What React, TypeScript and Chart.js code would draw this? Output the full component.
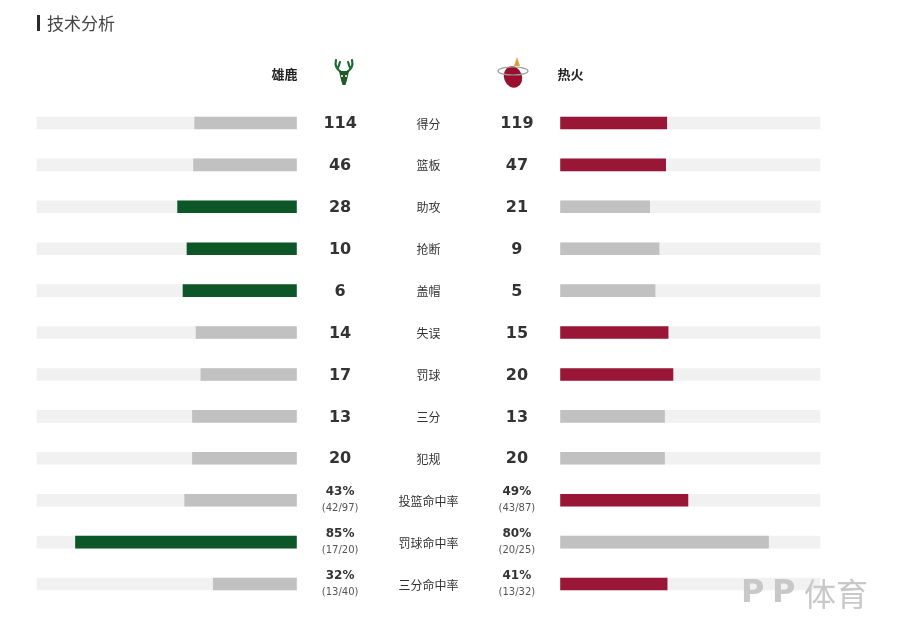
import React, { useEffect, useRef } from "react";
import { Chart, registerables } from "chart.js";

Chart.register(...registerables);

const title = "技术分析";
const homeName = "雄鹿";
const awayName = "热火";
const categories = ["得分", "篮板", "助攻", "抢断", "盖帽", "失误", "罚球", "三分", "犯规", "投篮命中率", "罚球命中率", "三分命中率"];
const bucksValues = [114, 46, 28, 10, 6, 14, 17, 13, 20, 43, 85, 32];
const heatValues = [119, 47, 21, 9, 5, 15, 20, 13, 20, 49, 80, 41];
const isPercent = [false, false, false, false, false, false, false, false, false, true, true, true];
const bucksDetail = ["", "", "", "", "", "", "", "", "", "(42/97)", "(17/20)", "(13/40)"];
const heatDetail = ["", "", "", "", "", "", "", "", "", "(43/87)", "(20/25)", "(13/32)"];

const GAP = 50.8;
const SPAN = 100;
const GREEN = "#0c5628";
const RED = "#9a1637";
const GRAY = "#c1c1c1";
const TRACK = "#f1f1f1";
const CJK = '"Noto Sans CJK SC", "Noto Sans", sans-serif';
const NUM = '"DejaVu Sans", Verdana, sans-serif';

function barLen(a: number, b: number, pct: boolean) {
  if (pct) return a;
  return (a / (a + b)) * 80;
}

export default function App() {
  const ref = useRef<HTMLCanvasElement>(null);
  useEffect(() => {
    if (!ref.current) return;
    const leftLen = bucksValues.map((v, i) => barLen(v, heatValues[i], isPercent[i]));
    const rightLen = heatValues.map((v, i) => barLen(v, bucksValues[i], isPercent[i]));
    const leftColors = bucksValues.map((v, i) => (v > heatValues[i] ? GREEN : GRAY));
    const rightColors = heatValues.map((v, i) => (v > bucksValues[i] ? RED : GRAY));

    const textPlugin = {
      id: "texts",
      afterDraw(chart: any) {
        const ctx = chart.ctx as CanvasRenderingContext2D;
        const xs = chart.scales.x;
        const ys = chart.scales.y;
        ctx.save();
        // title
        ctx.fillStyle = "#2b2b2b";
        ctx.fillRect(37, 15, 3, 16);
        ctx.fillStyle = "#444";
        ctx.font = `17px ${CJK}`;
        ctx.textBaseline = "middle";
        ctx.textAlign = "left";
        ctx.fillText(title, 47, 24);

        // team names
        ctx.fillStyle = "#222";
        ctx.font = `bold 13px ${CJK}`;
        ctx.textAlign = "right";
        ctx.fillText(homeName, xs.getPixelForValue(-GAP) + 1, 74);
        ctx.textAlign = "left";
        ctx.fillText(awayName, xs.getPixelForValue(GAP) - 3, 74);

        // deer logo
        const dx = 344, dy = 74;
        ctx.strokeStyle = "#1f6a33";
        ctx.lineWidth = 2.2;
        ctx.lineCap = "round";
        ctx.beginPath();
        ctx.moveTo(dx - 3, dy - 2); ctx.quadraticCurveTo(dx - 10, dy - 6, dx - 8, dy - 14);
        ctx.moveTo(dx - 6, dy - 6); ctx.lineTo(dx - 4, dy - 12);
        ctx.moveTo(dx + 3, dy - 2); ctx.quadraticCurveTo(dx + 10, dy - 6, dx + 8, dy - 14);
        ctx.moveTo(dx + 6, dy - 6); ctx.lineTo(dx + 4, dy - 12);
        ctx.stroke();
        ctx.fillStyle = "#1f5a2c";
        ctx.beginPath();
        ctx.moveTo(dx - 5, dy - 3); ctx.lineTo(dx + 5, dy - 3); ctx.lineTo(dx + 3, dy + 6);
        ctx.lineTo(dx + 1.5, dy + 11); ctx.lineTo(dx - 1.5, dy + 11); ctx.lineTo(dx - 3, dy + 6);
        ctx.closePath(); ctx.fill();
        ctx.fillStyle = "#d8d0b0";
        ctx.fillRect(dx - 3, dy + 1, 2, 2); ctx.fillRect(dx + 1, dy + 1, 2, 2);

        // heat logo
        const hx = 513, hy = 76;
        ctx.fillStyle = "#98102e";
        ctx.beginPath();
        ctx.ellipse(hx, hy + 1, 9, 11, -0.35, 0, Math.PI * 2);
        ctx.fill();
        ctx.strokeStyle = "#9a9a9a";
        ctx.lineWidth = 1.2;
        ctx.beginPath();
        ctx.ellipse(hx, hy - 5, 15, 4, 0, 0, Math.PI * 2);
        ctx.stroke();
        ctx.fillStyle = "#d9a23a";
        ctx.beginPath();
        ctx.moveTo(hx + 1, hy - 10); ctx.lineTo(hx + 4, hy - 19); ctx.lineTo(hx + 7, hy - 10);
        ctx.closePath(); ctx.fill();

        // rows
        const lx = xs.getPixelForValue(-34);
        const rx = xs.getPixelForValue(34);
        const mx = xs.getPixelForValue(0);
        ctx.textAlign = "center";
        categories.forEach((c, i) => {
          const cy = ys.getPixelForValue(i);
          ctx.fillStyle = "#333";
          ctx.font = `12px ${CJK}`;
          ctx.fillText(c, mx, cy + 1);
          if (isPercent[i]) {
            ctx.font = `bold 12px ${NUM}`;
            ctx.fillStyle = "#333";
            ctx.fillText(bucksValues[i] + "%", lx, cy - 8);
            ctx.fillText(heatValues[i] + "%", rx, cy - 8);
            ctx.font = `10px ${NUM}`;
            ctx.fillStyle = "#555";
            ctx.fillText(bucksDetail[i], lx, cy + 8);
            ctx.fillText(heatDetail[i], rx, cy + 8);
          } else {
            ctx.font = `bold 16px ${NUM}`;
            ctx.fillStyle = "#333";
            ctx.fillText(String(bucksValues[i]), lx, cy + 1);
            ctx.fillText(String(heatValues[i]), rx, cy + 1);
          }
        });

        // watermark
        ctx.fillStyle = "#c8c8c8";
        ctx.textAlign = "left";
        ctx.font = `bold 32px ${NUM}`;
        ctx.fillText("P", 741, 594);
        ctx.fillText("P", 772, 594);
        ctx.font = `32px ${CJK}`;
        ctx.fillText("体育", 804, 594);
        ctx.restore();
      },
    };

    const chart = new Chart(ref.current, {
      type: "bar",
      data: {
        labels: categories,
        datasets: [
          {
            data: categories.map(() => [-GAP - SPAN, -GAP]) as any,
            backgroundColor: TRACK,
            order: 2,
          },
          {
            data: categories.map(() => [GAP, GAP + SPAN]) as any,
            backgroundColor: TRACK,
            order: 2,
          },
          {
            data: leftLen.map((v) => [-GAP - v, -GAP]) as any,
            backgroundColor: leftColors,
            order: 1,
          },
          {
            data: rightLen.map((v) => [GAP, GAP + v]) as any,
            backgroundColor: rightColors,
            order: 1,
          },
        ],
      },
      options: {
        indexAxis: "y",
        responsive: false,
        animation: false,
        devicePixelRatio: 1,
        layout: { padding: { left: 36.5, right: 82.5, top: 102, bottom: 37 } },
        datasets: { bar: { grouped: false, barThickness: 12, borderWidth: 0 } } as any,
        plugins: { legend: { display: false }, tooltip: { enabled: false } },
        scales: {
          x: { type: "linear", min: -GAP - SPAN, max: GAP + SPAN, display: false },
          y: { type: "category", display: false, offset: true },
        },
      },
      plugins: [textPlugin],
    });
    return () => chart.destroy();
  }, []);

  return (
    <div style={{ position: "fixed", left: 0, top: 0, width: 903, height: 642, background: "#fff" }}>
      <canvas ref={ref} width={903} height={642} style={{ width: 903, height: 642 }} />
    </div>
  );
}
